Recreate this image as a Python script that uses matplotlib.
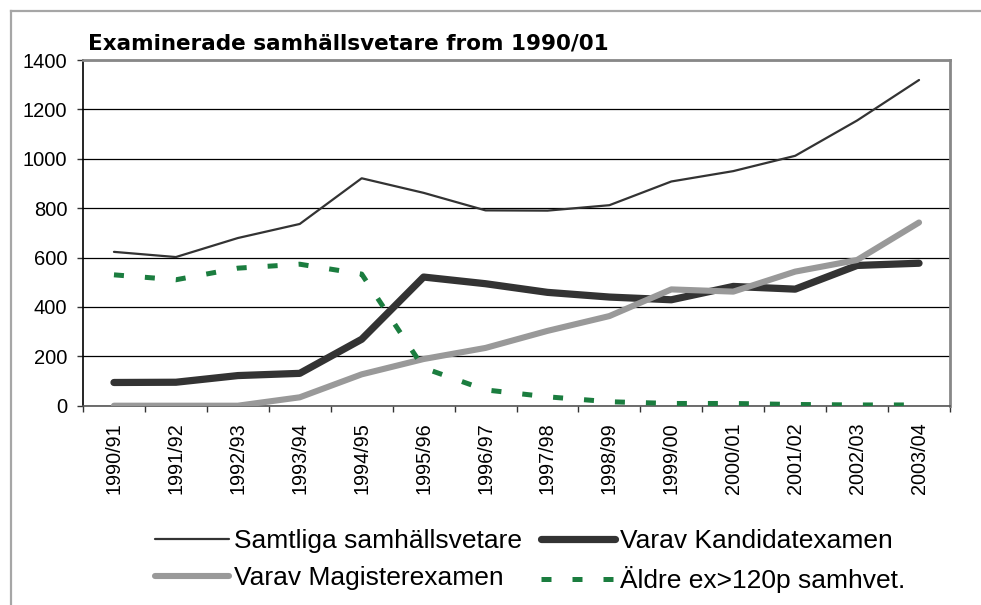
import matplotlib
matplotlib.use("Agg")
import matplotlib.pyplot as plt
from matplotlib.lines import Line2D

# ─── Data ───────────────────────────────────────────────────────────
years = ["1990/91", "1991/92", "1992/93", "1993/94", "1994/95", "1995/96",
         "1996/97", "1997/98", "1998/99", "1999/00", "2000/01", "2001/02",
         "2002/03", "2003/04"]

samtliga = [623, 602, 679, 736, 921, 862, 791, 790, 812, 908, 950, 1012, 1155, 1319]
kandidat = [94, 95, 122, 131, 269, 521, 494, 459, 440, 429, 483, 472, 568, 577]
magister = [0, 0, 0, 34, 127, 189, 234, 303, 363, 471, 462, 543, 590, 742]
aldre = [530, 510, 557, 573, 533, 153, 64, 36, 16, 9, 9, 5, 3, 3]

labels = ["Samtliga samhällsvetare", "Varav Kandidatexamen",
          "Varav Magisterexamen", "Äldre ex>120p samhvet."]

plt.rcParams["font.family"] = ["Liberation Sans", "DejaVu Sans"]

fig = plt.figure(figsize=(9.81, 6.05), dpi=100)
ax = fig.add_axes([83 / 981, 1 - 405.7 / 605, 867 / 981, 345.7 / 605])

x = list(range(len(years)))

l_sam, = ax.plot(x, samtliga, color="#333333", lw=1.6, solid_capstyle="round",
                 label=labels[0], zorder=3)
l_kan, = ax.plot(x, kandidat, color="#333333", lw=5.2, solid_capstyle="round",
                 solid_joinstyle="round", label=labels[1], zorder=4)
l_mag, = ax.plot(x, magister, color="#999999", lw=4.4, solid_capstyle="round",
                 solid_joinstyle="round", label=labels[2], zorder=5)
l_ald, = ax.plot(x, aldre, color="#1b7d3f", lw=3.6, dashes=(2.0, 4.2),
                 dash_capstyle="butt", label=labels[3], zorder=6)

# ── axes styling ────────────────────────────────────────────────────
ax.set_xlim(-0.5, len(years) - 0.5)
ax.set_ylim(0, 1400)
ax.set_yticks(range(0, 1401, 200))
ax.set_xticks(x)
ax.set_xticklabels(years, rotation=90, fontsize=14.3)
ax.set_xticks([i - 0.5 for i in range(len(years) + 1)], minor=True)
ax.tick_params(axis="x", which="major", length=0, pad=12)
ax.tick_params(axis="x", which="minor", length=4.3, width=1, color="#333333")
ax.tick_params(axis="y", length=4.3, width=1, pad=7, labelsize=14.5,
               color="#333333")

ax.grid(axis="y", color="#000000", lw=0.9, zorder=1)
ax.set_axisbelow(True)

ax.spines["left"].set_color("#000000")
ax.spines["left"].set_linewidth(1.2)
ax.spines["bottom"].set_color("#555555")
ax.spines["bottom"].set_linewidth(1.2)
for s in ("top", "right"):
    ax.spines[s].set_color("#888888")
    ax.spines[s].set_linewidth(2)

# ── title ───────────────────────────────────────────────────────────
fig.text(88 / 981, 1 - 49.5 / 605, "Examinerade samhällsvetare from 1990/01",
         family="DejaVu Sans", fontweight="bold", fontsize=15.5,
         va="baseline", ha="left")

# ── legend (row-wise order like the original) ───────────────────────
fig.legend([l_sam, l_mag, l_kan, l_ald],
           [labels[0], labels[2], labels[1], labels[3]],
           loc="upper left", bbox_to_anchor=(155 / 981, 1 - 529 / 605),
           ncol=2, frameon=False, fontsize=19, handlelength=2.8,
           handletextpad=0.2, columnspacing=0.7, labelspacing=0.5,
           borderpad=0, borderaxespad=0)

# ── outer chart frame (left and top edges visible) ──────────────────
fig.add_artist(Line2D([10.5 / 981, 10.5 / 981], [0, 1 - 11 / 605],
                      transform=fig.transFigure, color="#a6a6a6", lw=1.6))
fig.add_artist(Line2D([10.5 / 981, 1], [1 - 11 / 605, 1 - 11 / 605],
                      transform=fig.transFigure, color="#a6a6a6", lw=1.6))

fig.savefig("out.png", dpi=100)
